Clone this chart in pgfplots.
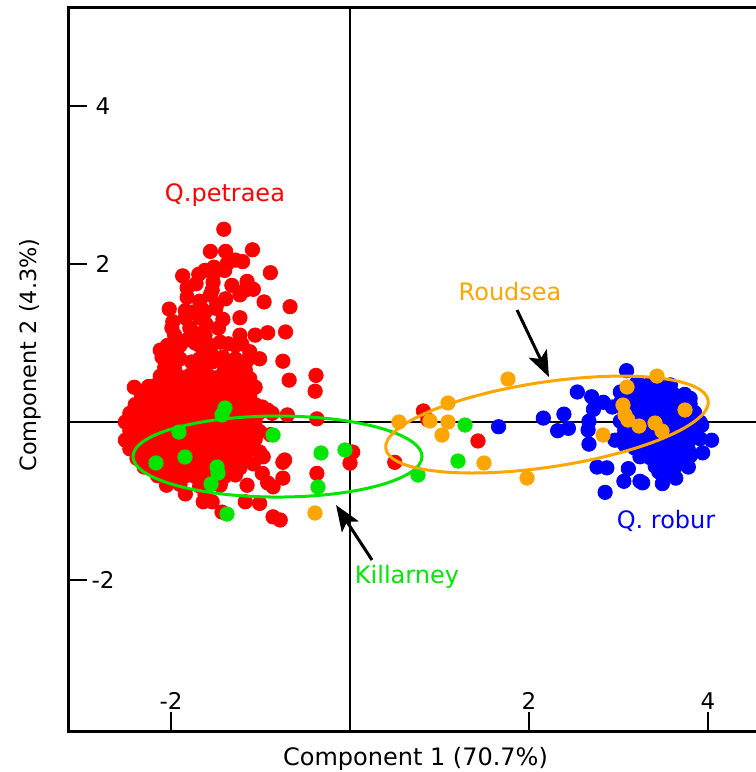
\documentclass[border=0pt]{standalone}
\usepackage{fontspec}
\setmainfont{DejaVu Sans}
\usepackage{pgfplots}
\pgfplotsset{compat=1.18}
\usetikzlibrary{arrows.meta}
\definecolor{qred}{RGB}{255,0,0}
\definecolor{qblue}{RGB}{0,0,255}
\definecolor{qorange}{RGB}{255,165,0}
\definecolor{qgreen}{RGB}{0,230,0}
\begin{document}
\begin{tikzpicture}
\path[use as bounding box] (-34bp,-20.5bp) rectangle (344bp,365.5bp);
\begin{axis}[
  at={(0,0)}, anchor=south west,
  x=44.75bp, y=39.5bp,
  xmin=-3.151, xmax=4.536, ymin=-3.911, ymax=5.241,
  axis line style={draw=none},
  tick pos=left, tick align=inside,
  major tick length=9.5bp,
  tick style={black, line width=1.4bp},
  xtick={-2,2,4}, xticklabels={-2,2,4},
  ytick={-2,2,4}, yticklabels={-2,2,4},
  xticklabel style={anchor=center, yshift=15bp, font=\fontsize{11.5bp}{13bp}\selectfont},
  yticklabel style={anchor=center, xshift=17.5bp, font=\fontsize{11.5bp}{13bp}\selectfont},
  clip=false,
  clip marker paths=true,
]
\draw[line width=1.5bp, line join=miter] (rel axis cs:1,1) -- (rel axis cs:0,1) -- (rel axis cs:0,0) -- (rel axis cs:1,0);
\draw[line width=1.2bp] (axis cs:0,-3.911) -- (axis cs:0,5.241);
\draw[line width=1.2bp] (axis cs:-3.151,0) -- (axis cs:4.536,0);

% Q. petraea (red)
\addplot[only marks, mark=*, mark size=3.6bp, color=qred, mark options={draw=none}] coordinates {
(-1.41,2.44) (-1.56,2.16) (-1.39,2.16) (-1.09,2.18) (-1.37,2.01) (-1.28,2.05) (-1.20,2.03) (-1.52,1.96)
(-1.51,1.90) (-0.89,1.89) (-1.87,1.85) (-1.69,1.87) (-1.53,1.77) (-1.54,1.67) (-1.32,1.73) (-1.15,1.78)
(-1.17,1.67) (-1.08,1.68) (-1.82,1.70) (-1.82,1.58) (-1.72,1.75) (-1.39,1.56) (-1.68,1.53) (-1.66,1.44)
(-1.62,1.39) (-1.49,1.49) (-1.50,1.44) (-0.96,1.52) (-0.67,1.46) (-2.02,1.43) (-1.84,1.41) (-1.77,1.39)
(-1.42,1.30) (-1.98,1.27) (-1.99,1.19) (-1.79,1.19) (-1.74,1.13) (-1.61,1.24) (-1.47,1.19) (-0.92,1.13)
(-0.72,1.14) (-1.82,1.04) (-1.73,1.00) (-1.45,1.01) (-1.36,0.99) (-1.21,0.99) (-1.12,0.89) (-2.12,0.91)
(-2.04,0.97) (-1.93,0.95) (-2.10,0.82) (-1.99,0.81) (-1.77,0.76) (-1.56,0.89) (-1.54,0.76) (-1.42,0.82)
(-1.32,0.77) (-1.15,0.78) (-0.75,0.77) (-0.68,0.53) (-0.38,0.59) (-0.39,0.39) (-2.41,0.44)
(-1.90,0.97) (-1.68,0.97) (-1.56,0.97) (-1.28,0.97) (-1.96,1.10) (-1.62,1.10) (-1.23,1.10) (-1.06,1.10)
(-1.84,1.32) (-1.68,1.32) (-1.23,1.32) (-1.56,1.61) (-1.23,1.61) (-1.90,0.80) (-1.68,0.80) (-1.28,0.80)
(-1.01,0.80) (-1.62,1.92) (-1.40,1.92)
(-0.98,0.19) (-0.92,0.15) (-0.87,0.11) (-0.70,0.09) (-0.37,0.04) (-0.89,-0.16) (-1.01,-0.38) (-0.97,-0.44)
(-1.08,-0.53) (-0.75,-0.51) (-0.75,-0.71) (-0.98,-0.65) (-0.92,-0.77) (-0.86,-0.82) (-1.17,-1.01) (-1.01,-1.03)
(-0.86,-1.20) (-0.78,-1.24) (-0.37,-0.65) (0.03,-0.38) (0.00,-0.52) (-1.64,-1.01) (-1.54,-1.01) (-1.43,-1.14)
(-0.73,-0.48) (-1.20,-0.23) (-1.23,-0.39) (-1.14,-0.10) (-1.15,-0.80) (0.82,0.14) (0.87,0.03) (1.43,-0.24) (0.50,-0.51)
(-2.07,0.69) (-1.96,0.67) (-1.73,0.68) (-1.62,0.70) (-1.40,0.67) (-1.28,0.69) (-1.17,0.66)
(-2.12,0.58) (-2.01,0.56) (-1.90,0.57) (-1.79,0.59) (-1.68,0.56) (-1.56,0.57) (-1.45,0.58) (-1.34,0.56) (-1.23,0.57) (-1.12,0.55)
(-2.25,0.45) (-2.18,0.46) (-2.07,0.47) (-1.96,0.45) (-1.84,0.46) (-1.73,0.47) (-1.62,0.45) (-1.51,0.46) (-1.40,0.47) (-1.28,0.45) (-1.17,0.46) (-1.06,0.44)
(-2.33,0.33) (-2.23,0.35) (-2.12,0.34) (-2.01,0.33) (-1.90,0.35) (-1.79,0.34) (-1.68,0.33) (-1.56,0.35) (-1.45,0.34) (-1.34,0.33) (-1.23,0.35) (-1.12,0.34)
(-2.40,0.22) (-2.29,0.24) (-2.18,0.23) (-2.07,0.22) (-1.96,0.24) (-1.84,0.23) (-1.73,0.22) (-1.62,0.24) (-1.51,0.23) (-1.40,0.22) (-1.28,0.24) (-1.17,0.23) (-1.06,0.22)
(-2.46,0.11) (-2.35,0.12) (-2.23,0.10) (-2.12,0.11) (-2.01,0.12) (-1.90,0.10) (-1.79,0.11) (-1.68,0.12) (-1.56,0.10) (-1.45,0.11) (-1.34,0.12) (-1.23,0.10) (-1.12,0.11) (-1.01,0.12)
(-2.51,0.00) (-2.40,0.01) (-2.29,-0.01) (-2.18,0.00) (-2.07,0.01) (-1.96,-0.01) (-1.84,0.00) (-1.73,0.01) (-1.62,-0.01) (-1.51,0.00) (-1.40,0.01) (-1.28,-0.01) (-1.17,0.00) (-1.06,0.01)
(-2.46,-0.11) (-2.35,-0.12) (-2.23,-0.10) (-2.12,-0.11) (-2.01,-0.12) (-1.90,-0.10) (-1.79,-0.11) (-1.68,-0.12) (-1.56,-0.10) (-1.45,-0.11) (-1.34,-0.12) (-1.23,-0.10) (-1.12,-0.11) (-1.01,-0.12)
(-2.51,-0.23) (-2.40,-0.22) (-2.29,-0.24) (-2.18,-0.23) (-2.07,-0.22) (-1.96,-0.24) (-1.84,-0.23) (-1.73,-0.22) (-1.62,-0.24) (-1.51,-0.23) (-1.40,-0.22) (-1.28,-0.24) (-1.17,-0.23) (-1.06,-0.22)
(-2.46,-0.34) (-2.35,-0.35) (-2.23,-0.33) (-2.12,-0.34) (-2.01,-0.35) (-1.90,-0.33) (-1.79,-0.34) (-1.68,-0.35) (-1.56,-0.33) (-1.45,-0.34) (-1.34,-0.35) (-1.23,-0.33) (-1.12,-0.34)
(-2.38,-0.46) (-2.29,-0.45) (-2.18,-0.47) (-2.07,-0.46) (-1.96,-0.45) (-1.84,-0.47) (-1.73,-0.46) (-1.62,-0.45) (-1.51,-0.47) (-1.40,-0.46) (-1.28,-0.45) (-1.17,-0.47)
(-2.30,-0.57) (-2.23,-0.58) (-2.12,-0.56) (-2.01,-0.57) (-1.90,-0.58) (-1.79,-0.56) (-1.68,-0.57) (-1.56,-0.58) (-1.45,-0.56) (-1.34,-0.57) (-1.23,-0.58)
(-2.15,-0.68) (-2.07,-0.69) (-1.96,-0.67) (-1.84,-0.68) (-1.73,-0.69) (-1.62,-0.67) (-1.51,-0.68) (-1.40,-0.69) (-1.28,-0.67)
(-2.05,-0.80) (-1.90,-0.79) (-1.68,-0.81) (-1.45,-0.80) (-1.84,-0.91) (-1.62,-0.92)
};

% Q. robur (blue)
\addplot[only marks, mark=*, mark size=3.6bp, color=qblue, mark options={draw=none}] coordinates {
(3.24,0.47) (3.35,0.48) (3.46,0.46) (3.58,0.47)
(3.07,0.35) (3.18,0.36) (3.30,0.34) (3.41,0.35) (3.52,0.36) (3.63,0.34) (3.74,0.35)
(3.02,0.24) (3.13,0.23) (3.24,0.25) (3.35,0.24) (3.46,0.23) (3.58,0.25) (3.69,0.24) (3.80,0.23)
(3.07,0.13) (3.18,0.12) (3.30,0.14) (3.41,0.13) (3.52,0.12) (3.63,0.14) (3.74,0.13) (3.85,0.12)
(3.02,0.01) (3.13,0.02) (3.24,0.00) (3.35,0.01) (3.46,0.02) (3.58,0.00) (3.69,0.01) (3.80,0.02) (3.91,0.00)
(3.07,-0.10) (3.18,-0.11) (3.30,-0.09) (3.41,-0.10) (3.52,-0.11) (3.63,-0.09) (3.74,-0.10) (3.85,-0.11)
(3.13,-0.22) (3.24,-0.21) (3.35,-0.23) (3.46,-0.22) (3.58,-0.21) (3.69,-0.23) (3.80,-0.22) (3.91,-0.21)
(3.18,-0.33) (3.30,-0.34) (3.41,-0.32) (3.52,-0.33) (3.63,-0.34) (3.74,-0.32)
(3.24,-0.44) (3.35,-0.45) (3.46,-0.43) (3.58,-0.44) (3.69,-0.45) (3.80,-0.43)
(3.41,-0.56) (3.52,-0.55) (3.63,-0.57)
(1.66,-0.06) (2.16,0.05) (2.39,0.10) (2.32,-0.11) (2.44,-0.08) (2.54,0.38) (2.67,0.01) (2.66,-0.10)
(2.67,-0.28) (2.70,0.32) (2.72,0.16) (2.83,0.25) (2.93,0.19) (3.09,0.65) (3.20,0.49) (2.76,-0.57)
(2.87,-0.58) (3.11,-0.59) (2.85,-0.89) (3.06,-0.75) (3.24,-0.75) (3.27,-0.77) (3.49,-0.78) (3.64,-0.71)
(3.45,-0.63) (3.78,-0.57) (3.94,-0.39) (4.04,-0.23) (3.78,-0.35) (3.93,-0.04) (3.80,0.30) (3.02,0.38)
(2.96,-0.23) (3.05,-0.19) (3.07,-0.29) (3.58,-0.65) (3.46,-0.61)
};

% Roudsea (orange)
\addplot[only marks, mark=*, mark size=3.6bp, color=qorange, mark options={draw=none}] coordinates {
(1.765,0.544) (1.095,0.241) (0.547,0.000) (0.894,0.013) (1.095,0.000) (1.028,-0.165) (1.497,-0.519)
(1.978,-0.709) (-0.391,-1.152) (3.430,0.582) (3.095,0.443) (3.050,0.215) (3.073,0.089) (3.106,0.025)
(3.229,-0.051) (3.743,0.152) (3.408,-0.013) (3.486,-0.114) (2.827,-0.165)
};

% Killarney (green)
\addplot[only marks, mark=*, mark size=3.6bp, color=qgreen, mark options={draw=none}] coordinates {
(-1.397,0.177) (-1.430,0.089) (-1.911,-0.127) (-1.844,-0.443) (-2.168,-0.519) (-1.486,-0.570)
(-1.475,-0.646) (-1.553,-0.785) (-1.374,-1.165) (-0.860,-0.165) (-0.324,-0.392) (-0.056,-0.354)
(-0.358,-0.823) (1.285,-0.038) (1.207,-0.494) (0.760,-0.671)
};

\draw[qgreen, line width=1.5bp] (axis cs:-0.810,-0.437) ellipse [x radius=72.25bp, y radius=20.25bp];
\draw[qorange, line width=1.5bp, rotate around={8.5:(axis cs:2.201,-0.032)}] (axis cs:2.201,-0.032) ellipse [x radius=81.5bp, y radius=21.25bp];

\draw[line width=1.5bp, -{Stealth[length=13bp, width=10bp, inset=3bp]}] (axis cs:1.866,1.418) -- (axis cs:2.223,0.570);
\draw[line width=1.5bp, -{Stealth[length=13bp, width=10bp, inset=3bp]}] (axis cs:0.246,-1.747) -- (axis cs:-0.156,-1.051);

\node[text=qred, font=\fontsize{12bp}{14bp}\selectfont] at (axis cs:-1.397,2.873) {Q.petraea};
\node[text=qorange, font=\fontsize{12bp}{14bp}\selectfont] at (axis cs:1.788,1.646) {Roudsea};
\node[text=qblue, font=\fontsize{12bp}{14bp}\selectfont] at (axis cs:3.531,-1.253) {Q. robur};
\node[text=qgreen, font=\fontsize{12bp}{14bp}\selectfont] at (axis cs:0.637,-1.962) {Killarney};
\end{axis}
\node[anchor=base, font=\fontsize{12bp}{14bp}\selectfont] at (173.75bp,-17bp) {Component 1 (70.7\%)};
\node[anchor=base, rotate=90, font=\fontsize{11.2bp}{13bp}\selectfont] at (-16bp,188bp) {Component 2 (4.3\%)};
\end{tikzpicture}
\end{document}
